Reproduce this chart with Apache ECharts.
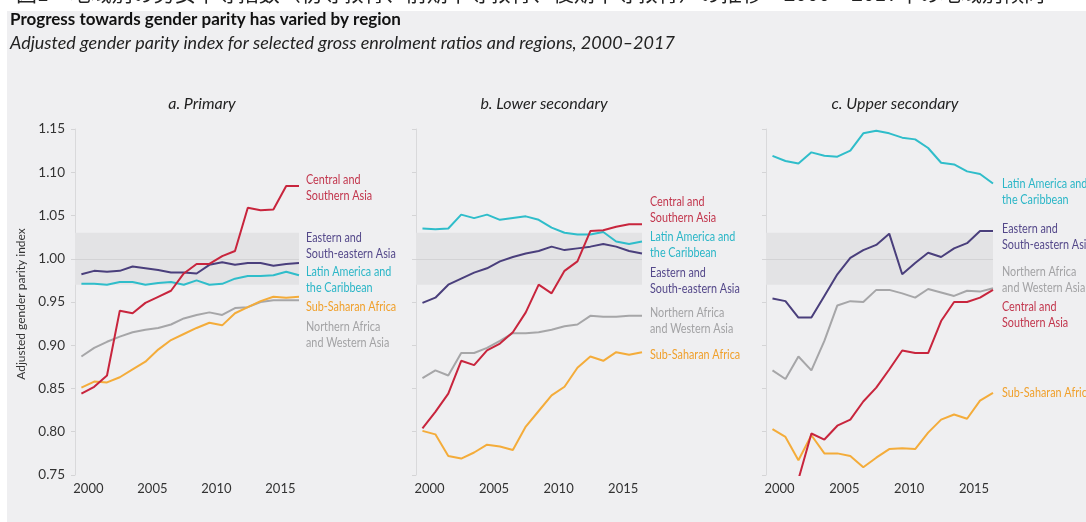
<!DOCTYPE html>
<html>
<head>
<meta charset="utf-8">
<script src="https://cdn.jsdelivr.net/npm/echarts@6/dist/echarts.min.js"></script>
<style>
  html, body { margin: 0; padding: 0; background: #ffffff; }
  #chart { width: 1086px; height: 522px; }
</style>
</head>
<body>
<div id="chart"></div>
<script>
// Years on the horizontal axis
const years = [2000, 2001, 2002, 2003, 2004, 2005, 2006, 2007, 2008, 2009,
               2010, 2011, 2012, 2013, 2014, 2015, 2016, 2017];
const yearTicks = [2000, 2005, 2010, 2015];
const yTicks = [0.75, 0.80, 0.85, 0.90, 0.95, 1.00, 1.05, 1.10, 1.15];
const parityBand = [0.97, 1.03];

const regions = [
  'Northern Africa and Western Asia',
  'Sub-Saharan Africa',
  'Latin America and the Caribbean',
  'Eastern and South-eastern Asia',
  'Central and Southern Asia'
];
const panelTitles = ['a. Primary', 'b. Lower secondary', 'c. Upper secondary'];

// a. Primary
const primaryNorthernAfrica = [0.887, 0.897, 0.904, 0.910, 0.915, 0.918, 0.920, 0.924, 0.931, 0.935,
                               0.938, 0.935, 0.943, 0.944, 0.950, 0.952, 0.952, 0.952];
const primarySubSaharan = [0.851, 0.858, 0.857, 0.863, 0.872, 0.881, 0.895, 0.906, 0.913, 0.920,
                           0.926, 0.923, 0.937, 0.944, 0.951, 0.956, 0.955, 0.956];
const primaryLatinAmerica = [0.971, 0.971, 0.970, 0.973, 0.973, 0.970, 0.972, 0.973, 0.970, 0.975,
                             0.970, 0.971, 0.977, 0.980, 0.980, 0.981, 0.985, 0.981];
const primaryEasternAsia = [0.982, 0.986, 0.985, 0.986, 0.991, 0.989, 0.987, 0.984, 0.984, 0.983,
                            0.993, 0.996, 0.993, 0.995, 0.995, 0.992, 0.994, 0.995];
const primaryCentralAsia = [0.844, 0.852, 0.865, 0.940, 0.937, 0.949, 0.956, 0.963, 0.983, 0.994,
                            0.994, 1.003, 1.009, 1.059, 1.056, 1.057, 1.084, 1.084];

// b. Lower secondary
const lowerNorthernAfrica = [0.862, 0.871, 0.865, 0.891, 0.891, 0.897, 0.905, 0.914, 0.914, 0.915,
                             0.918, 0.922, 0.924, 0.934, 0.933, 0.933, 0.934, 0.934];
const lowerSubSaharan = [0.801, 0.797, 0.772, 0.769, 0.776, 0.785, 0.783, 0.779, 0.806, 0.824,
                         0.842, 0.852, 0.874, 0.887, 0.882, 0.892, 0.889, 0.892];
const lowerLatinAmerica = [1.035, 1.034, 1.035, 1.051, 1.047, 1.051, 1.045, 1.047, 1.049, 1.045,
                           1.036, 1.030, 1.028, 1.028, 1.031, 1.020, 1.017, 1.020];
const lowerEasternAsia = [0.949, 0.955, 0.970, 0.977, 0.984, 0.989, 0.997, 1.002, 1.006, 1.009,
                          1.014, 1.010, 1.012, 1.014, 1.017, 1.014, 1.009, 1.006];
const lowerCentralAsia = [0.804, 0.823, 0.844, 0.882, 0.877, 0.894, 0.902, 0.915, 0.938, 0.970,
                          0.960, 0.986, 0.997, 1.032, 1.033, 1.037, 1.040, 1.040];

// c. Upper secondary
const upperNorthernAfrica = [0.871, 0.861, 0.887, 0.871, 0.905, 0.946, 0.951, 0.950, 0.964, 0.964,
                             0.960, 0.955, 0.965, 0.961, 0.957, 0.963, 0.962, 0.966];
const upperSubSaharan = [0.803, 0.794, 0.767, 0.796, 0.775, 0.775, 0.772, 0.759, 0.770, 0.780,
                         0.781, 0.780, 0.799, 0.814, 0.820, 0.815, 0.836, 0.845];
const upperLatinAmerica = [1.119, 1.113, 1.110, 1.123, 1.119, 1.118, 1.125, 1.145, 1.148, 1.145,
                           1.140, 1.138, 1.128, 1.111, 1.109, 1.101, 1.098, 1.087];
const upperEasternAsia = [0.954, 0.951, 0.932, 0.932, 0.957, 0.982, 1.001, 1.010, 1.016, 1.029,
                          0.982, 0.995, 1.007, 1.002, 1.012, 1.018, 1.032, 1.032];
const upperCentralAsia = [null, null, 0.745, 0.798, 0.791, 0.807, 0.814, 0.835, 0.851, 0.872,
                          0.894, 0.891, 0.891, 0.928, 0.950, 0.950, 0.955, 0.964];

const panelValues = [
  [primaryNorthernAfrica, primarySubSaharan, primaryLatinAmerica, primaryEasternAsia, primaryCentralAsia],
  [lowerNorthernAfrica, lowerSubSaharan, lowerLatinAmerica, lowerEasternAsia, lowerCentralAsia],
  [upperNorthernAfrica, upperSubSaharan, upperLatinAmerica, upperEasternAsia, upperCentralAsia]
];

// Line and label colours, in region order
const lineColors = ['#a6a6a8', '#f4ac3a', '#2fbdca', '#4a3f7c', '#c8253d'];
const textColors = ['#a3a3a5', '#f0a02c', '#2bb6c7', '#54488a', '#c2364d'];

// End-of-line labels: [panel, region index, text, x, top]
const endLabels = [
  [0, 4, 'Central and\nSouthern Asia', 306, 172],
  [0, 3, 'Eastern and\nSouth-eastern Asia', 306, 230],
  [0, 2, 'Latin America and\nthe Caribbean', 306, 264],
  [0, 1, 'Sub-Saharan Africa', 306, 299],
  [0, 0, 'Northern Africa\nand Western Asia', 306, 319],
  [1, 4, 'Central and\nSouthern Asia', 650, 194],
  [1, 2, 'Latin America and\nthe Caribbean', 650, 229],
  [1, 3, 'Eastern and\nSouth-eastern Asia', 650, 265],
  [1, 0, 'Northern Africa\nand Western Asia', 650, 305],
  [1, 1, 'Sub-Saharan Africa', 650, 347],
  [2, 2, 'Latin America and\nthe Caribbean', 1002, 176],
  [2, 3, 'Eastern and\nSouth-eastern Asia', 1002, 221],
  [2, 0, 'Northern Africa\nand Western Asia', 1002, 264],
  [2, 4, 'Central and\nSouthern Asia', 1002, 299],
  [2, 1, 'Sub-Saharan Africa', 1002, 385]
];

const BASE_FONT = 'Lato, sans-serif';
// labels are set narrow, like a condensed face
const NARROW = 0.83;

// Plot areas for the three panels
const grids = [
  { left: 75, top: 129, width: 224, height: 346 },
  { left: 416, top: 129, width: 226, height: 346 },
  { left: 766, top: 129, width: 227, height: 346 }
];
const panelCenters = [202, 544, 895];

const chart = echarts.init(document.getElementById('chart'), null, { renderer: 'canvas' });

const xAxes = grids.map((g, i) => ({
  type: 'value', gridIndex: i, min: 1999.5, max: 2017,
  axisLine: { show: false }, axisTick: { show: false }, splitLine: { show: false },
  axisLabel: {
    customValues: yearTicks, color: '#333', fontFamily: BASE_FONT, fontSize: 13,
    margin: 7, padding: [0, 0, 0, 14], formatter: v => String(v)
  }
}));

const yAxes = grids.map((g, i) => ({
  type: 'value', gridIndex: i, min: 0.75, max: 1.15, interval: 0.05,
  axisLine: { show: true, lineStyle: { color: '#d9d9db', width: 1 } },
  axisTick: { show: true, inside: false, length: 4, lineStyle: { color: '#d4d4d6' } },
  splitLine: { show: false },
  axisLabel: {
    show: i === 0, color: '#333', fontFamily: BASE_FONT, fontSize: 13.5, margin: 10,
    formatter: v => v.toFixed(2)
  }
}));

const series = [];
panelValues.forEach((vals, p) => {
  vals.forEach((arr, r) => {
    const s = {
      type: 'line', name: regions[r], xAxisIndex: p, yAxisIndex: p,
      data: years.map((yr, k) => [yr, arr[k]]),
      showSymbol: false, symbol: 'none', clip: true, connectNulls: false,
      lineStyle: { color: lineColors[r], width: 2 },
      itemStyle: { color: lineColors[r] },
      silent: true, z: 3 + r
    };
    if (r === 0) {
      s.markArea = {
        silent: true,
        itemStyle: { color: '#e3e3e5' },
        data: [[{ yAxis: parityBand[0] }, { yAxis: parityBand[1] }]]
      };
      s.markLine = {
        silent: true, symbol: 'none', label: { show: false },
        lineStyle: { color: '#d3d3d5', width: 1, type: 'solid' },
        data: [{ yAxis: 1.0 }]
      };
    }
    series.push(s);
  });
});

const graphics = [
  // framed chart area
  { type: 'rect', z: -10, shape: { x: 7, y: 11, width: 1079, height: 511 }, style: { fill: '#efeff1' } },
  // caption line above the chart
  { type: 'text', x: 16, y: -17, style: { text: '図1　地域別の男女平等指数（初等教育、前期中等教育、後期中等教育）の推移　2000〜2017年の地域別傾向', font: "21px 'Noto Sans CJK JP'", fill: '#222' } },
  { type: 'text', x: 10, y: 20, style: { text: 'Progress towards gender parity has varied by region', font: "bold 17px " + BASE_FONT, fill: '#111', textVerticalAlign: 'middle' } },
  { type: 'text', x: 10, y: 43, style: { text: 'Adjusted gender parity index for selected gross enrolment ratios and regions, 2000–2017', font: "italic 18px " + BASE_FONT, fill: '#222', textVerticalAlign: 'middle' } },
  { type: 'text', x: 21, y: 304, rotation: Math.PI / 2, style: { text: 'Adjusted gender parity index', font: "12px " + BASE_FONT, fill: '#333', textAlign: 'center', textVerticalAlign: 'middle' } },
  { type: 'text', x: 97, y: 249, style: { text: 'Parity', font: "bold 12px " + BASE_FONT, fill: '#333', textVerticalAlign: 'middle' } }
];
panelTitles.forEach((t, i) => {
  graphics.push({ type: 'text', x: panelCenters[i], y: 104, style: { text: t, font: "italic 16px " + BASE_FONT, fill: '#222', textAlign: 'center', textVerticalAlign: 'middle' } });
});
endLabels.forEach(([p, r, t, x, top]) => {
  graphics.push({ type: 'text', x: x, y: top, scaleX: NARROW, style: { text: t, font: "13px " + BASE_FONT, fill: textColors[r], lineHeight: 16, textVerticalAlign: 'top' } });
});

chart.setOption({
  backgroundColor: '#ffffff',
  animation: false,
  grid: grids,
  xAxis: xAxes,
  yAxis: yAxes,
  series: series,
  graphic: { elements: graphics }
});
</script>
</body>
</html>
